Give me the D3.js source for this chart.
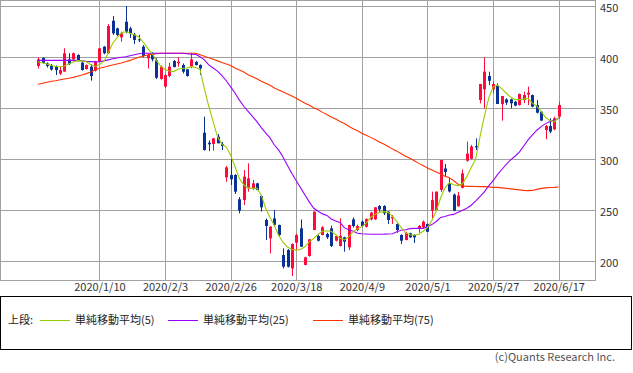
<!DOCTYPE html>
<html>
<head>
<meta charset="utf-8">
<script src="https://cdn.jsdelivr.net/npm/d3@7"></script>
<style>
  body { margin: 0; background: #fff; }
  svg text { font-family: "Noto Sans CJK JP", "Noto Sans", sans-serif; }
</style>
</head>
<body>
<svg id="chart" width="633" height="373"></svg>
<script>
// daily candles, 120 trading days (2019/12/17 .. 2020/6/17)
const open = [391.5,399.3,394,392,391,384,386,398,398,402.3, 394.7,388.5,390.8,387,395.7,410.4,404,435.9,428.4,419.6,
  434.9,428.4,422.5,417.6,410.4,399,404,397,378.7,371.2, 381.7,396.4,394.1,392.4,388.2,390.8,395.4,392.5,326.1,316.3,
  315,322.2,315,282.3,284.6,284.6,260.8,260.1,271.5,271.5, 276.4,264,240.5,222.5,242.1,235.6,206.2,211,193.1,218.3,
  232.3,196.4,205.2,230.7,224.8,225.8,226.8,232.3,220.2,215, 223.5,213.7,241.1,230.7,238.9,233.9,241.1,241.1,254.2,254.2,
  248.7,242.1,236.6,225.8,220.9,227.4,225.8,232.3,233.3,236.6, 249.6,250.3,270,291,276,265.4,254,272,298.6,300.5,
  313,358.1,368.6,381.7,368.6,372.2,354.2,358.8,358.8,356.5, 353.2,358.1,363.4,363,353.2,346.7,328.7,332.6,329.4,341.8];
const high = [400,400,395,393.4,392,391,408.8,404,404.5,403, 395.5,393,393.4,396.5,409,411,432.6,440.5,429,425.1,
  450.3,430,424,422,412,404,405,399,392,384, 394.7,397.3,400,394,388.5,404.5,396.5,393,341.8,318.5,
  320.6,324.8,317,293.4,302.6,285.5,263,289.5,296,279.7, 277,265,242,234.5,250.3,236,212.7,212,217.5,227,
  241,204.5,222,249,226,234.5,228,235,226,242.1, 224,236,243,236,240,242,248.5,253,255,255,
  249,245.4,237,226.5,229,228,226.5,235.6,240,237, 268.3,268.3,299.3,295.5,281.5,266.5,268,290,317.3,314,
  320.6,374,400,385.9,376.2,374.5,362.1,359.8,359.5,357, 364.5,366.3,371.2,363.5,358,347,333.6,340.2,341.8,356.5];
const low = [389,394,390,386.9,382.6,382.6,385.9,392.4,397,396, 387,388,377.1,386,395,403,403.2,421.9,421,415.3,
  423.5,419,413,415,400,389,396,378.7,378,370, 380.5,390,390.8,384.2,381,389.2,392,382.6,308.5,308,
  308.5,315.7,309,278,274.8,266,247,255.2,268.3,270, 269.5,248.7,220.9,207.8,234,225,193,194,185.6,211,
  214,196,204.5,230.5,219.5,225.5,222,214,219.5,214.5, 209.4,211,233,229.5,233.5,233,240,240.5,248.7,245.4,
  236.6,236.6,228,217,220.5,223,218,228,232.5,228.5, 242,249.5,268,283,267.5,249,253.5,271.5,297.7,300,
  309.1,354.9,350,372.8,364.7,354.2,337.9,353.2,350,352, 352.6,355,353.2,351,345,337.9,319.6,325.5,328.5,340];
const close = [398,394.7,391.5,388,387.5,387.5,404,393.4,404,396.7, 387.5,392.4,381.6,395.7,408.8,404,430.7,423.5,421.9,423.5,
  425.1,423.5,417,416.7,401.3,402.3,398,380,390.8,382.6, 390.8,390.5,395.7,385.9,381.7,398,392.4,389.2,309.1,314.7,
  320.6,315.7,313,292.1,280.4,268.3,249.6,283,281.3,276.4, 269.9,252.9,234.6,234,235.6,225.8,194.7,194.7,217,225.8,
  214.3,203.9,221.5,248.7,220.2,233.3,223.5,215,224.8,224.8, 219.2,235.6,234.6,234.6,234.6,241.5,247.7,252.9,250.9,247,
  240.5,243.7,230.7,220.2,227.4,223.5,223.5,234.6,238.9,229, 260,268.3,299.3,287.5,268.5,249.6,264.5,286.2,305.5,312.5,
  311.7,373.8,385.9,377,373.8,354.2,362.1,355.5,354.9,352.6, 364,363,365.3,351.6,345.7,337.9,332.6,327.1,340.2,353.2];

// moving averages as drawn
const ma5 = [395.7,394.5,393.4,392,391,390.8,391.5,393.5,395.5,396.7, 396.5,395.7,393,391,393,395.7,404,413.6,419,424,
  425.1,423.5,422,420,415,409,403.9,397,391.5,388, 386.5,386,388.5,389,389.5,390.8,390,388,369,352,
  337,322,315,312,304,293,281,275,272,271.5, 271.5,265,252,243,235,225,218.5,214,211.5,211,
  211.5,214.5,219,222.5,226.5,229.5,230,229.5,226,222.5, 221,224,229,232,234,237.5,243,246,248,248.7,
  248,244,239,233,228,226,225.5,226.5,229.5,233, 240,249,262,272,277,275,274.2,276,283,292,
  300,322,342,360,371,372.8,369,365,361,358.5, 358.5,359,359.8,355,352,347,341,338,337,341];
const ma25 = [397,397,397,397,397,397,397,397,397,397, 396.5,396,395.8,395.5,395.7,396.5,397.5,398.5,399.3,400,
  400.5,401.5,402.5,403.5,404,404,404,404,404,404, 404,404,404,404,403.5,403,402.9,400.5,397.5,392.5,
  389.5,386.5,382,377,371,365,358,352,347,342, 337,331,326,321,314,309,302,294,286,279,
  272,265,258,252,249,246.5,245,241.5,239.5,238, 233,231,229.5,227.5,227,226.8,226.5,226.5,226.5,226.6,
  226.8,227,229,230.5,231,232,232.3,232.3,232.3,233.9, 236,239,243,244,245.4,246,248,250,252,255,
  259,263.5,268,274,279,285,290,295,299.5,303, 307,313,319,324,328.5,332,335,337,338.5,340];
const ma75 = [373.5,374.5,375.5,376.5,377,378,378.8,379.5,380.3,381.5, 382.6,384,385.5,387.5,389.2,390.3,391.5,392.5,393.5,394.5,
  395.7,397,398.5,400,401.3,402.3,403,403.5,404,404, 404,404,404,404,404,404,404,402.5,401,399.5,
  398,396.5,395,393.5,392,389.5,387.5,385.5,383,381, 379,376.5,374.5,372.5,370,368,366,364,362,359.8,
  357.5,355,353,350.5,348.5,346,344,341.5,339.5,337, 335,332.5,330,328,325.5,323.5,321.5,319.5,317,315,
  312.5,310,308,305.5,303,301,298.5,296,294,291.5, 289.5,287.5,285.5,283.5,282,279,275.5,274,273.5,273.5,
  273.3,273.2,273.2,273,272.5,272.5,272,271.5,271,270.5, 270,269.5,269.3,269.5,270.5,271.5,272,272.3,272.5,272.8];

const tickIdx = [14, 29, 44, 59, 74, 89, 104, 119];
const tickLabels = ["2020/1/10","2020/2/3","2020/2/26","2020/3/18","2020/4/9","2020/5/1","2020/5/27","2020/6/17"];
const priceTicks = [200, 250, 300, 350, 400, 450];

const legendItems = [
  {name: "単純移動平均(5)", color: "#99cc00"},
  {name: "単純移動平均(25)", color: "#9900ff"},
  {name: "単純移動平均(75)", color: "#ff3300"}
];

const upColor = "#ff0a3c";
const downColor = "#0a3296";
const gridColor = "#a0a0a0";

const plot = {left: 1, top: 1, right: 595, bottom: 280};

const svg = d3.select("#chart");

const x = d3.scaleLinear().domain([-8.5, 127.3]).range([plot.left, plot.right]);
const y = d3.scaleLinear().domain([181.67, 455.2]).range([plot.bottom, plot.top]);
const px = v => Math.round(v) + 0.5;

// grid
svg.append("g").selectAll("line")
  .data(tickIdx).enter().append("line")
  .attr("x1", d => px(x(d))).attr("x2", d => px(x(d)))
  .attr("y1", plot.top).attr("y2", plot.bottom)
  .attr("stroke", gridColor).attr("stroke-width", 1);

svg.append("g").selectAll("line")
  .data(priceTicks).enter().append("line")
  .attr("x1", plot.left).attr("x2", plot.right)
  .attr("y1", d => px(y(d))).attr("y2", d => px(y(d)))
  .attr("stroke", gridColor).attr("stroke-width", 1);

svg.append("rect")
  .attr("x", 0.5).attr("y", 0.5)
  .attr("width", plot.right).attr("height", plot.bottom)
  .attr("fill", "none").attr("stroke", gridColor);

// candles
const idx = d3.range(open.length);
const candles = svg.append("g").selectAll("g")
  .data(idx).enter().append("g");

candles.append("line")
  .attr("x1", i => px(x(i))).attr("x2", i => px(x(i)))
  .attr("y1", i => y(high[i])).attr("y2", i => y(low[i]))
  .attr("stroke", i => close[i] >= open[i] ? upColor : downColor)
  .attr("stroke-width", 1);

candles.append("rect")
  .attr("x", i => Math.round(x(i)) - 1)
  .attr("width", 3)
  .attr("y", i => y(Math.max(open[i], close[i])))
  .attr("height", i => Math.max(1, Math.abs(y(open[i]) - y(close[i]))))
  .attr("fill", i => close[i] >= open[i] ? upColor : downColor);

// moving averages
const line = d3.line().x((d, i) => x(i)).y(d => y(d));
[[ma75, "#ff3300"], [ma25, "#9900ff"], [ma5, "#99cc00"]].forEach(([s, c]) => {
  svg.append("path")
    .datum(s)
    .attr("d", line)
    .attr("fill", "none")
    .attr("stroke", c)
    .attr("stroke-width", 1.1);
});

// axes (labels only)
svg.append("g")
  .attr("transform", `translate(${plot.right + 5},1.5)`)
  .call(d3.axisRight(y).tickValues(priceTicks).tickSize(0).tickPadding(0))
  .call(g => g.select(".domain").remove())
  .selectAll("text").attr("font-size", 11).attr("fill", "#333")
  .attr("font-family", '"Noto Sans CJK JP", sans-serif');

svg.append("g")
  .attr("transform", `translate(0,${plot.bottom + 1})`)
  .call(d3.axisBottom(x).tickValues(tickIdx).tickFormat((d, i) => tickLabels[i]).tickSize(0).tickPadding(2))
  .call(g => g.select(".domain").remove())
  .selectAll("text").attr("font-size", 11).attr("fill", "#333")
  .attr("font-family", '"Noto Sans CJK JP", sans-serif');

// legend
svg.append("rect")
  .attr("x", 0.5).attr("y", 296.5)
  .attr("width", 631).attr("height", 53)
  .attr("fill", "none").attr("stroke", "#000");

svg.append("text")
  .attr("x", 8).attr("y", 324)
  .attr("font-size", 11).attr("fill", "#222")
  .text("上段:");

const legendX = [40, 168, 313];
legendItems.forEach((d, i) => {
  svg.append("line")
    .attr("x1", legendX[i]).attr("x2", legendX[i] + 30)
    .attr("y1", 320.5).attr("y2", 320.5)
    .attr("stroke", d.color).attr("stroke-width", 1);
  svg.append("text")
    .attr("x", legendX[i] + 35).attr("y", 324)
    .attr("font-size", 11).attr("fill", "#222")
    .text(d.name);
});

svg.append("text")
  .attr("x", 615).attr("y", 361)
  .attr("text-anchor", "end")
  .attr("font-size", 11).attr("fill", "#555")
  .text("(c)Quants Research Inc.");
</script>
</body>
</html>
